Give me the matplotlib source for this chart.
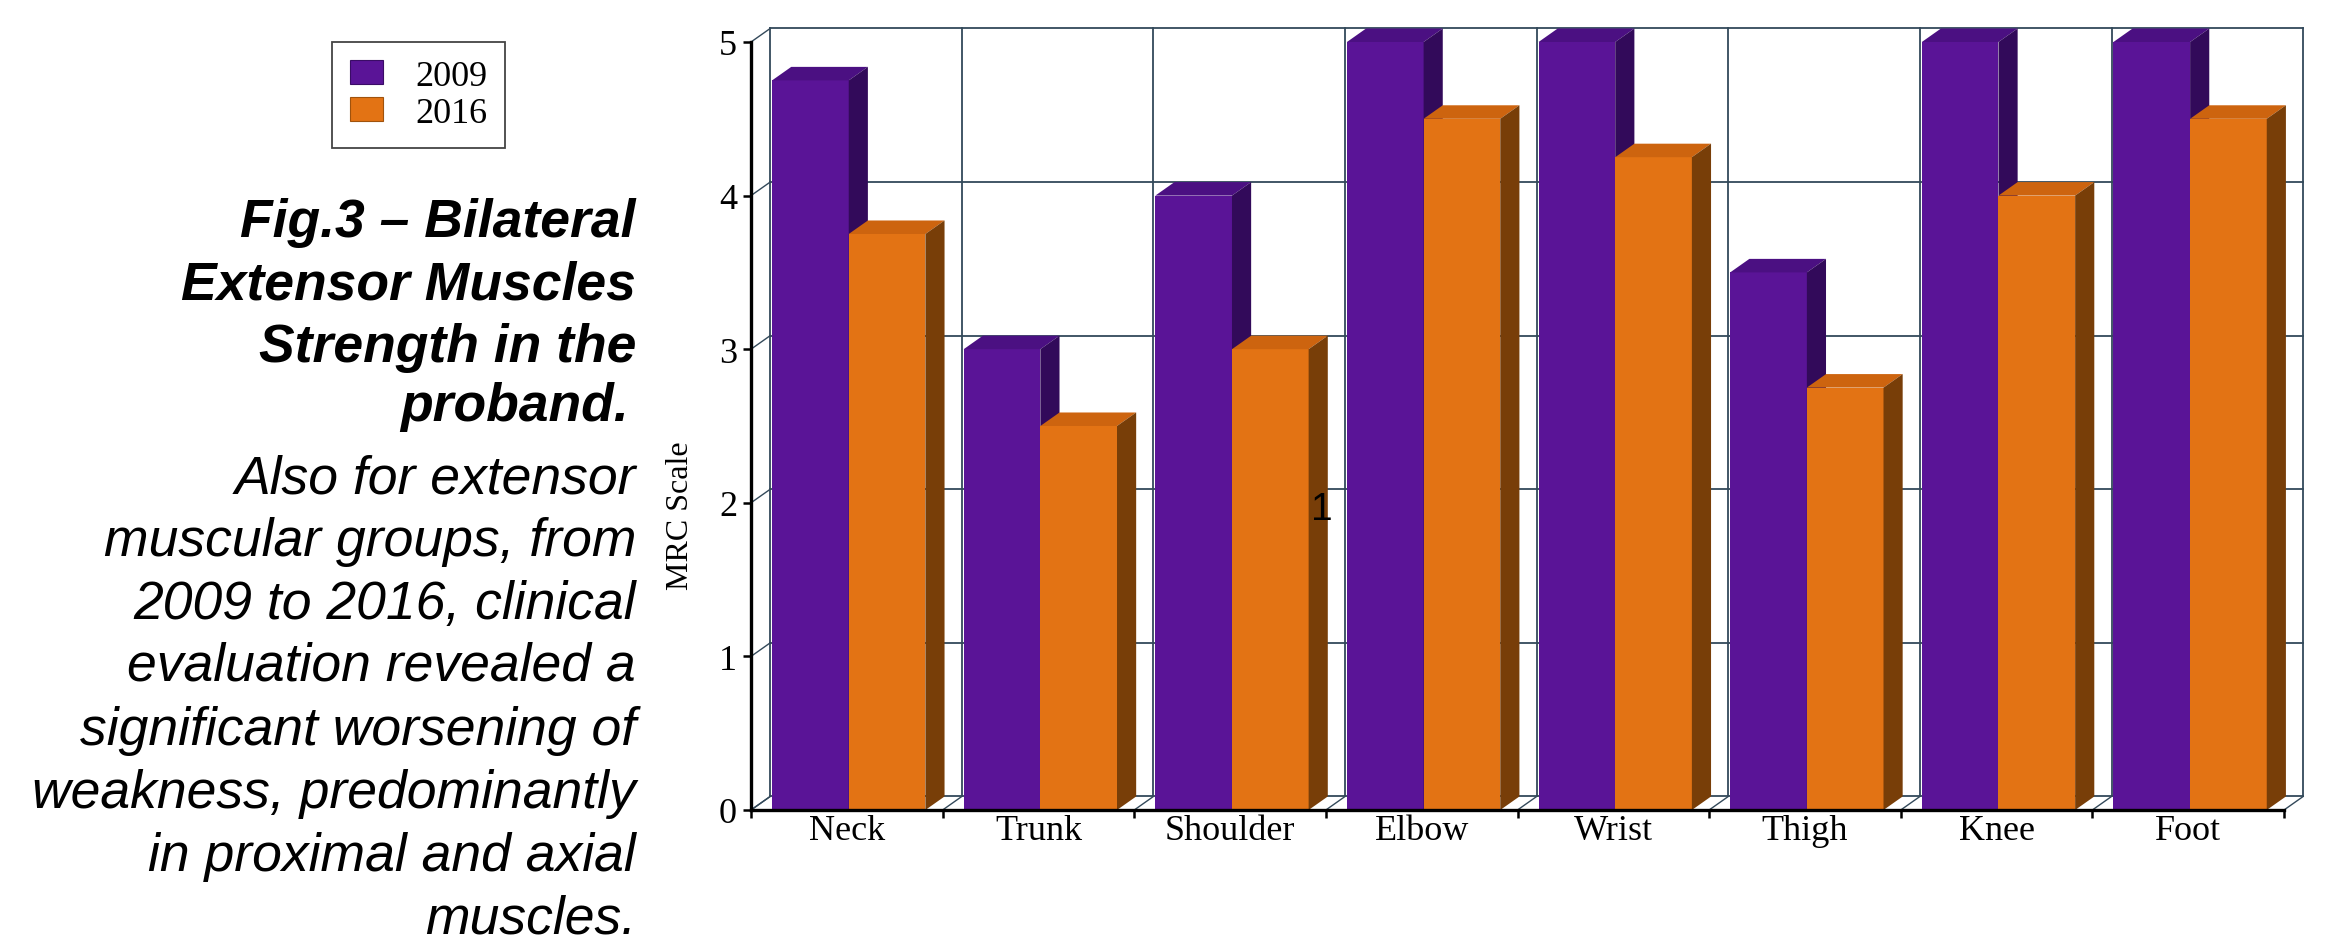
import numpy as np
import matplotlib.pyplot as plt
from matplotlib.patches import Polygon, Patch

muscles = ["Neck", "Trunk", "Shoulder", "Elbow", "Wrist", "Thigh", "Knee", "Foot"]
mrc_2009 = [4.75, 3, 4, 5, 5, 3.5, 5, 5]
mrc_2016 = [3.75, 2.5, 3, 4.5, 4.25, 2.75, 4, 4.5]
years = ["2009", "2016"]

caption_bold = ["Fig.3 \u2013 Bilateral", "Extensor Muscles", "Strength in the", "proband."]
caption_text = ["Also for extensor", "muscular groups, from", "2009 to 2016, clinical",
                "evaluation revealed a", "significant worsening of",
                "weakness, predominantly", "in proximal and axial", "muscles."]

# face / top / side shades for each series
purple = ["#5A1497", "#4B1082", "#320A5A"]
orange = ["#E37314", "#CD640F", "#783E08"]
grid_c = "#33495A"
serif = "Liberation Serif"

W, H = 2330, 945
fig = plt.figure(figsize=(W / 100, H / 100), dpi=100)
ax = fig.add_axes([751 / W, 134 / H, 1533 / W, 768 / H])
ax.set_xlim(0, 8)
ax.set_ylim(0, 5)
ax.patch.set_visible(False)

dx, dy = 0.10, 0.088  # depth offset of the back wall
n = len(muscles)

# back wall grid, floor and left wall
for k in range(6):
    ax.plot([dx, n + dx], [k + dy, k + dy], color=grid_c, lw=1.3, zorder=1, clip_on=False)
    ax.plot([0, dx], [k, k + dy], color=grid_c, lw=1.0, zorder=1, clip_on=False)
for i in range(n + 1):
    ax.plot([i + dx, i + dx], [dy, 5 + dy], color=grid_c, lw=1.3, zorder=1, clip_on=False)
    ax.plot([i, i + dx], [0, dy], color=grid_c, lw=1.0, zorder=1, clip_on=False)

bw = 0.40
x = np.arange(n)
for j, (vals, cols) in enumerate([(mrc_2009, purple), (mrc_2016, orange)]):
    left = x + 0.11 + j * bw
    z = 3 + j
    ax.bar(left, vals, width=bw, align="edge", color=cols[0], zorder=z, clip_on=False)
    for x0, h in zip(left, vals):
        x1 = x0 + bw
        top = [(x0, h), (x1, h), (x1 + dx, h + dy), (x0 + dx, h + dy)]
        side = [(x1, 0), (x1 + dx, dy), (x1 + dx, h + dy), (x1, h)]
        ax.add_patch(Polygon(top, closed=True, fc=cols[1], ec="none", zorder=z + 0.1, clip_on=False))
        ax.add_patch(Polygon(side, closed=True, fc=cols[2], ec="none", zorder=z + 0.2, clip_on=False))

for s in ["top", "right"]:
    ax.spines[s].set_visible(False)
for s in ["left", "bottom"]:
    ax.spines[s].set_linewidth(2.4)
    ax.spines[s].set_zorder(6)

ax.set_yticks(range(6))
ax.set_yticklabels([str(v) for v in range(6)], family=serif, fontsize=26)
ax.set_xticks(np.arange(n + 1))
ax.set_xticklabels([])
ax.set_xticks(x + 0.5, minor=True)
ax.set_xticklabels(muscles, minor=True, family=serif, fontsize=26)
ax.tick_params(axis="y", length=6, width=1.8, pad=4)
ax.tick_params(axis="x", which="major", length=6, width=1.8)
ax.tick_params(axis="x", which="minor", length=0, pad=3)

ax.text(-0.046, 1.92, "MRC Scale", transform=ax.get_yaxis_transform(), rotation=90,
        ha="center", va="center", family=serif, fontsize=23)

fig.text(1322 / W, 1 - 510 / H, "1", family="Liberation Sans", fontsize=28,
         ha="center", va="center", zorder=10)

handles = [Patch(fc=purple[0], ec="#3A0C66", lw=0.8), Patch(fc=orange[0], ec="#A0520C", lw=0.8)]
leg = fig.legend(handles, years, loc="upper left", bbox_to_anchor=(332 / W, 1 - 43 / H),
                 frameon=True, fancybox=False, edgecolor="#444444", framealpha=1,
                 prop={"family": serif, "size": 26}, handlelength=0.9, handleheight=0.65,
                 handletextpad=0.9, labelspacing=0.1, borderpad=0.5, borderaxespad=0)
leg.get_frame().set_linewidth(1.3)

# caption block, right aligned
base = [237, 299, 362, 421, 494, 556, 619, 681, 745, 808, 871, 934]
lines = [(t, "bold") for t in caption_bold] + [(t, "normal") for t in caption_text]
for (t, wt), b in zip(lines, base):
    right = 629 if t == "proband." else 636
    fig.text(right / W, 1 - b / H, t, ha="right", va="baseline", family="Liberation Sans",
             style="italic", weight=wt, fontsize=38.5)

fig.savefig("out.png", dpi=100)
